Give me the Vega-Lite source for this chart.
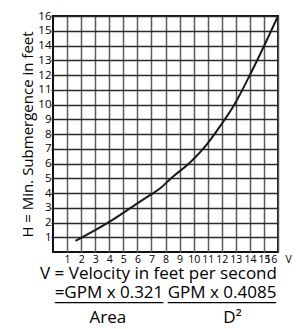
{
  "$schema": "https://vega.github.io/schema/vega-lite/v6.json",
  "width": 225,
  "height": 236,
  "autosize": {"type": "none"},
  "padding": {"left": 53, "top": 16, "right": 30, "bottom": 77},
  "background": "white",
  "config": {
    "font": "Open Sans",
    "view": {"stroke": "#111", "strokeWidth": 2}
  },
  "title": {
    "text": ["=GPM x 0.321 GPM x 0.4085", "─────────\u00a0─────────"],
    "orient": "bottom",
    "anchor": "middle",
    "fontSize": 17,
    "fontWeight": "normal",
    "color": "black",
    "lineHeight": 10,
    "offset": 3,
    "subtitle": "Area\u00a0\u00a0\u00a0\u00a0\u00a0\u00a0\u00a0\u00a0\u00a0\u00a0\u00a0\u00a0\u00a0\u00a0\u00a0\u00a0\u00a0\u00a0\u00a0\u00a0\u00a0\u00a0D²",
    "subtitleFont": "Open Sans",
    "subtitleFontSize": 17,
    "subtitleColor": "black",
    "subtitlePadding": -1.5
  },
  "data": {
    "values": [
      {"v": 1.6, "h": 0.75},
      {"v": 4.0, "h": 2.04},
      {"v": 6.0, "h": 3.3},
      {"v": 6.9, "h": 3.86},
      {"v": 7.6, "h": 4.3},
      {"v": 8.4, "h": 5.0},
      {"v": 9.8, "h": 6.12},
      {"v": 11.0, "h": 7.37},
      {"v": 11.7, "h": 8.28},
      {"v": 12.9, "h": 10.0},
      {"v": 14.0, "h": 12.0},
      {"v": 15.0, "h": 13.95},
      {"v": 16.0, "h": 16.0}
    ]
  },
  "mark": {"type": "line", "interpolate": "monotone", "color": "#1a1a1a", "strokeWidth": 2},
  "encoding": {
    "x": {
      "field": "v",
      "type": "quantitative",
      "scale": {"domain": [0, 16], "nice": false, "zero": false},
      "axis": {
        "values": [1, 2, 3, 4, 5, 6, 7, 8, 9, 10, 11, 12, 13, 14, 15, 16],
        "grid": true,
        "gridColor": "#5a5a5a",
        "gridWidth": 1.5,
        "gridOpacity": 1,
        "domain": false,
        "ticks": false,
        "labelFontSize": 10.5,
        "labelColor": "black",
        "labelPadding": 2,
        "labelOverlap": false,
        "labelBound": false,
        "labelFlush": false,
        "labelExpr": "datum.value == 16 ? '16\u00a0\u00a0\u00a0V' : datum.label",
        "encode": {
          "labels": {
            "update": {
              "align": {"signal": "datum.value == 16 ? 'left' : 'center'"},
              "dx": {"signal": "datum.value == 16 ? -4 : -10 + 0.5 * datum.value"}
            }
          }
        },
        "title": "V = Velocity in feet per second",
        "titleFontSize": 17,
        "titleFontWeight": "normal",
        "titleColor": "black",
        "titlePadding": 1,
        "titleX": 105
      }
    },
    "y": {
      "field": "h",
      "type": "quantitative",
      "scale": {"domain": [0, 16], "nice": false, "zero": false},
      "axis": {
        "values": [1, 2, 3, 4, 5, 6, 7, 8, 9, 10, 11, 12, 13, 14, 15, 16],
        "grid": true,
        "gridColor": "#2a2a2a",
        "gridWidth": 1.5,
        "gridOpacity": 1,
        "domain": false,
        "ticks": true,
        "tickSize": 2,
        "tickColor": "#222",
        "tickWidth": 1.5,
        "labelFontSize": 11.5,
        "labelColor": "black",
        "labelPadding": 0,
        "labelOverlap": false,
        "labelFlush": false,
        "title": "H = Min. Submergence in feet",
        "titleFontSize": 15,
        "titleFontWeight": "normal",
        "titleColor": "black",
        "titleX": -21,
        "titleBaseline": "alphabetic"
      }
    }
  }
}
